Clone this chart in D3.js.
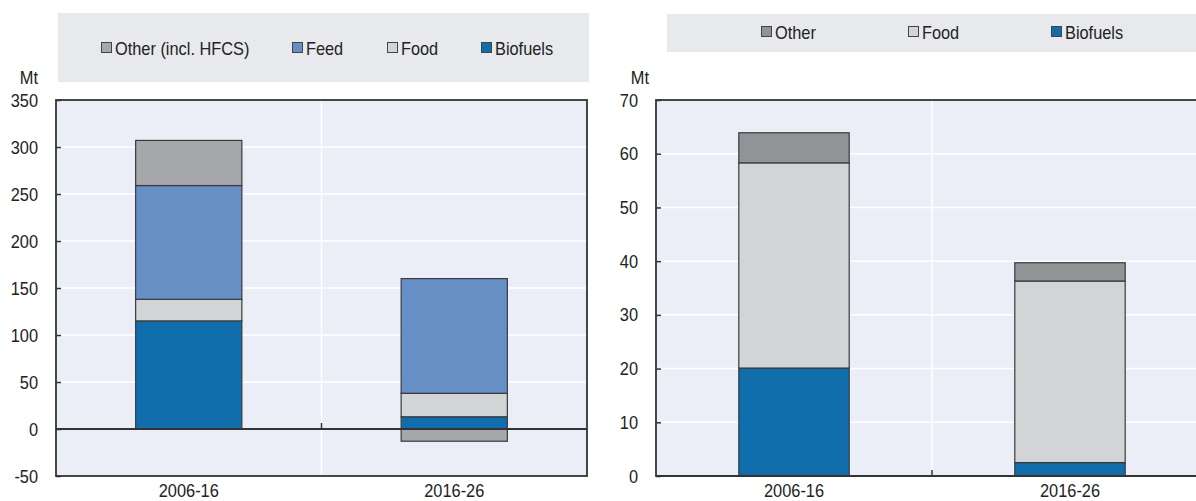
<!DOCTYPE html>
<html><head><meta charset="utf-8">
<script src="https://cdn.jsdelivr.net/npm/d3@7"></script>
<style>
body{margin:0;background:#fff;}
svg text{font-family:"Liberation Sans Narrow","Arial Narrow","Liberation Sans",sans-serif;fill:#222;}
</style></head>
<body><svg id="c" width="1196" height="501"></svg>
<script>
// Left panel data (Mt)
const categories = ["2006-16", "2016-26"];
const leftBiofuels = [115, 13];
const leftFood = [23, 25];
const leftFeed = [121, 122];
const leftOther = [48, -13];
const leftTicks = [-50, 0, 50, 100, 150, 200, 250, 300, 350];
// Right panel data (Mt)
const rightBiofuels = [20.1, 2.5];
const rightFood = [38.2, 33.8];
const rightOther = [5.6, 3.4];
const rightTicks = [0, 10, 20, 30, 40, 50, 60, 70];

const svg = d3.select("#c");
const FONT = 19;

function panel(opt){
  const g = svg.append("g");
  // legend box
  g.append("rect").attr("x",opt.legend.x).attr("y",opt.legend.y).attr("width",opt.legend.w).attr("height",opt.legend.h).attr("fill","#e8e9ec");
  opt.legend.items.forEach(it=>{
    g.append("rect").attr("x",it.x+0.5).attr("y",opt.legend.ty-5.5).attr("width",10).attr("height",10)
      .attr("fill",it.color).attr("stroke","#444").attr("stroke-width",1);
    g.append("text").attr("x",it.x+14).attr("y",opt.legend.ty).attr("dy","0.35em").attr("font-size",FONT).text(it.name);
  });
  const x = d3.scaleBand().domain(categories).range([opt.x0,opt.x1]).paddingInner(0).paddingOuter(0);
  const y = d3.scaleLinear().domain(opt.domain).range([opt.y1,opt.y0]);
  // plot bg
  g.append("rect").attr("x",opt.x0).attr("y",opt.y0).attr("width",opt.x1-opt.x0).attr("height",opt.y1-opt.y0).attr("fill","#eceef7");
  // gridlines
  g.selectAll(".hg").data(opt.ticks).join("line").attr("x1",opt.x0).attr("x2",opt.x1)
    .attr("y1",d=>y(d)).attr("y2",d=>y(d)).attr("stroke","#fff").attr("stroke-width",1.5);
  const mid = x(categories[1]);
  g.append("line").attr("x1",mid).attr("x2",mid).attr("y1",opt.y0).attr("y2",opt.y1).attr("stroke","#fff").attr("stroke-width",1.5);
  // stacked bars
  const bw = x.bandwidth()*0.4;
  categories.forEach((c,i)=>{
    let pos=0, neg=0;
    opt.series.forEach(s=>{
      const v = s.values[i];
      let a,b;
      if(v>=0){a=pos;b=pos+v;pos=b;} else {a=neg+v;b=neg;neg=a;}
      g.append("rect").attr("x",x(c)+(x.bandwidth()-bw)/2).attr("width",bw)
        .attr("y",y(b)).attr("height",y(a)-y(b)).attr("fill",s.color).attr("stroke","#3a3a3a").attr("stroke-width",1.2);
    });
  });
  // zero line
  g.append("line").attr("x1",opt.x0).attr("x2",opt.x1).attr("y1",y(0)).attr("y2",y(0)).attr("stroke","#333").attr("stroke-width",2);
  g.append("line").attr("x1",mid).attr("x2",mid).attr("y1",y(0)).attr("y2",y(0)-6).attr("stroke","#333").attr("stroke-width",1.5);
  // border
  g.append("rect").attr("x",opt.x0).attr("y",opt.y0).attr("width",opt.x1-opt.x0).attr("height",opt.y1-opt.y0)
    .attr("fill","none").attr("stroke","#333").attr("stroke-width",1.8);
  // y axis
  const ax = g.append("g").attr("transform",`translate(${opt.x0},0)`)
    .call(d3.axisLeft(y).tickValues(opt.ticks).tickFormat(d=>String(d)).tickSize(-5).tickPadding(18));
  ax.select(".domain").remove();
  ax.selectAll(".tick line").attr("stroke","#333").attr("stroke-width",1.5);
  ax.selectAll("text").attr("font-size",FONT).attr("fill","#222").attr("font-family",null);
  // x axis labels
  const bx = g.append("g").attr("transform",`translate(0,${opt.y1})`).call(d3.axisBottom(x).tickSize(0).tickPadding(8));
  bx.select(".domain").remove();
  bx.selectAll("text").attr("font-size",FONT).attr("fill","#222").attr("font-family",null);
  // unit
  g.append("text").attr("x",opt.unitX).attr("y",77).attr("dy","0.35em").attr("text-anchor","end").attr("font-size",FONT).text("Mt");
}

panel({
  x0:56, x1:587, y0:100, y1:476, domain:[-50,350], ticks:leftTicks, unitX:38,
  legend:{x:58,y:13,w:531,h:69,ty:48,items:[
    {name:"Other (incl. HFCS)",color:"#a6a7aa",x:101},
    {name:"Feed",color:"#6690c5",x:292},
    {name:"Food",color:"#d3d4d6",x:387},
    {name:"Biofuels",color:"#106eac",x:481}]},
  series:[
    {name:"Biofuels",color:"#106eac",values:leftBiofuels},
    {name:"Food",color:"#d3d4d6",values:leftFood},
    {name:"Feed",color:"#6690c5",values:leftFeed},
    {name:"Other",color:"#a6a7aa",values:leftOther}]
});
panel({
  x0:656, x1:1208, y0:100, y1:476, domain:[0,70], ticks:rightTicks, unitX:649,
  legend:{x:667,y:14,w:540,h:38,ty:32,items:[
    {name:"Other",color:"#929396",x:761},
    {name:"Food",color:"#d3d4d6",x:908},
    {name:"Biofuels",color:"#106eac",x:1051}]},
  series:[
    {name:"Biofuels",color:"#106eac",values:rightBiofuels},
    {name:"Food",color:"#d3d4d6",values:rightFood},
    {name:"Other",color:"#929396",values:rightOther}]
});

// emulate a condensed face: shrink each text horizontally around its anchor
svg.selectAll("text").each(function(){
  const len = this.getComputedTextLength();
  d3.select(this).attr("textLength", (len*0.86).toFixed(1)).attr("lengthAdjust","spacingAndGlyphs");
});
</script></body></html>
